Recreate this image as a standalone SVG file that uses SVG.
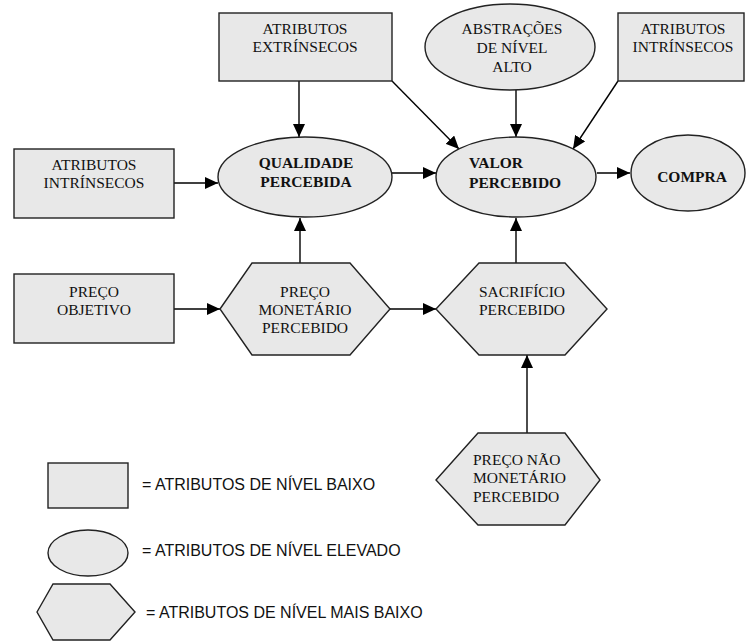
<svg xmlns="http://www.w3.org/2000/svg" width="746" height="641" viewBox="0 0 746 641">
  <defs>
    <marker id="arrow" markerUnits="userSpaceOnUse" markerWidth="14" markerHeight="12" refX="13" refY="6" orient="auto">
      <path d="M0,0 L13,6 L0,12 Z" fill="#000"/>
    </marker>
    <style>
      .shape { fill: #e8e8e8; stroke: #222; stroke-width: 1.4; }
      .edge { fill: none; stroke: #000; stroke-width: 1.4; marker-end: url(#arrow); }
      .t { font-family: "Liberation Serif", "Times New Roman", serif; font-size: 15.5px; fill: #111; text-anchor: middle; }
      .tl { font-family: "Liberation Serif", "Times New Roman", serif; font-size: 15.5px; fill: #111; }
      .b { font-weight: bold; }
      .leg { font-family: "Liberation Sans", Arial, sans-serif; font-size: 16px; fill: #111; }
    </style>
  </defs>
  <rect width="746" height="641" fill="#fff"/>

  <!-- connectors -->
  <g id="connectors">
    <line class="edge" x1="299" y1="81" x2="299" y2="137"/>
    <line class="edge" x1="392" y1="81" x2="459" y2="149"/>
    <line class="edge" x1="516" y1="90" x2="516" y2="137"/>
    <line class="edge" x1="618" y1="81" x2="573" y2="149"/>
    <line class="edge" x1="174" y1="183" x2="218" y2="183"/>
    <line class="edge" x1="392" y1="173" x2="436" y2="173"/>
    <line class="edge" x1="597" y1="173" x2="630" y2="173"/>
    <line class="edge" x1="300" y1="263" x2="300" y2="218"/>
    <line class="edge" x1="516" y1="263" x2="516" y2="218"/>
    <line class="edge" x1="174" y1="309" x2="220" y2="309"/>
    <line class="edge" x1="390" y1="309" x2="436" y2="309"/>
    <line class="edge" x1="527" y1="433" x2="527" y2="355"/>
  </g>

  <g id="atributos-extrinsecos">
    <rect class="shape" x="219" y="13" width="173" height="68"/>
    <text class="t" x="305" y="34">ATRIBUTOS</text>
    <text class="t" x="305" y="52">EXTRÍNSECOS</text>
  </g>

  <g id="abstracoes">
    <ellipse class="shape" cx="510" cy="47" rx="85" ry="43"/>
    <text class="t" x="512" y="34">ABSTRAÇÕES</text>
    <text class="t" x="512" y="53">DE NÍVEL</text>
    <text class="t" x="512" y="72">ALTO</text>
  </g>

  <g id="atributos-intrinsecos-topo">
    <rect class="shape" x="618" y="13" width="126" height="68"/>
    <text class="t" x="683" y="34">ATRIBUTOS</text>
    <text class="t" x="683" y="52">INTRÍNSECOS</text>
  </g>

  <g id="atributos-intrinsecos">
    <rect class="shape" x="14" y="149" width="160" height="69"/>
    <text class="t" x="94" y="170">ATRIBUTOS</text>
    <text class="t" x="94" y="188">INTRÍNSECOS</text>
  </g>

  <g id="qualidade-percebida">
    <ellipse class="shape" cx="305" cy="177" rx="87" ry="40"/>
    <text class="t b" x="306" y="168">QUALIDADE</text>
    <text class="t b" x="306" y="187">PERCEBIDA</text>
  </g>

  <g id="valor-percebido">
    <ellipse class="shape" cx="516" cy="177" rx="80" ry="40"/>
    <text class="tl b" x="469" y="168">VALOR</text>
    <text class="tl b" x="469" y="188">PERCEBIDO</text>
  </g>

  <g id="compra">
    <ellipse class="shape" cx="688" cy="173" rx="57" ry="38"/>
    <text class="t b" x="692" y="182">COMPRA</text>
  </g>

  <g id="preco-objetivo">
    <rect class="shape" x="14" y="274" width="160" height="69"/>
    <text class="t" x="94" y="297">PREÇO</text>
    <text class="t" x="94" y="315">OBJETIVO</text>
  </g>

  <g id="preco-monetario">
    <polygon class="shape" points="220,309 252,263 350,263 390,309 350,355 252,355"/>
    <text class="t" x="305" y="297">PREÇO</text>
    <text class="t" x="305" y="315">MONETÁRIO</text>
    <text class="t" x="305" y="333">PERCEBIDO</text>
  </g>

  <g id="sacrificio-percebido">
    <polygon class="shape" points="436,309 479,263 565,263 607,309 565,355 479,355"/>
    <text class="t" x="522" y="297">SACRIFÍCIO</text>
    <text class="t" x="522" y="315">PERCEBIDO</text>
  </g>

  <g id="preco-nao-monetario">
    <polygon class="shape" points="436,480 478,433 565,433 600,480 565,525 478,525"/>
    <text class="tl" x="473" y="465">PREÇO NÃO</text>
    <text class="tl" x="473" y="483">MONETÁRIO</text>
    <text class="tl" x="473" y="502">PERCEBIDO</text>
  </g>

  <!-- legend -->
  <g id="legenda-baixo">
    <rect class="shape" x="48" y="463" width="80" height="45"/>
    <text class="leg" x="142" y="490">= ATRIBUTOS DE NÍVEL BAIXO</text>
  </g>
  <g id="legenda-elevado">
    <ellipse class="shape" cx="88" cy="553" rx="40" ry="23"/>
    <text class="leg" x="142" y="556">= ATRIBUTOS DE NÍVEL ELEVADO</text>
  </g>
  <g id="legenda-mais-baixo">
    <polygon class="shape" points="37,612 53,584 110,584 135,612 110,640 53,640"/>
    <text class="leg" x="146" y="618">= ATRIBUTOS DE NÍVEL MAIS BAIXO</text>
  </g>
</svg>
